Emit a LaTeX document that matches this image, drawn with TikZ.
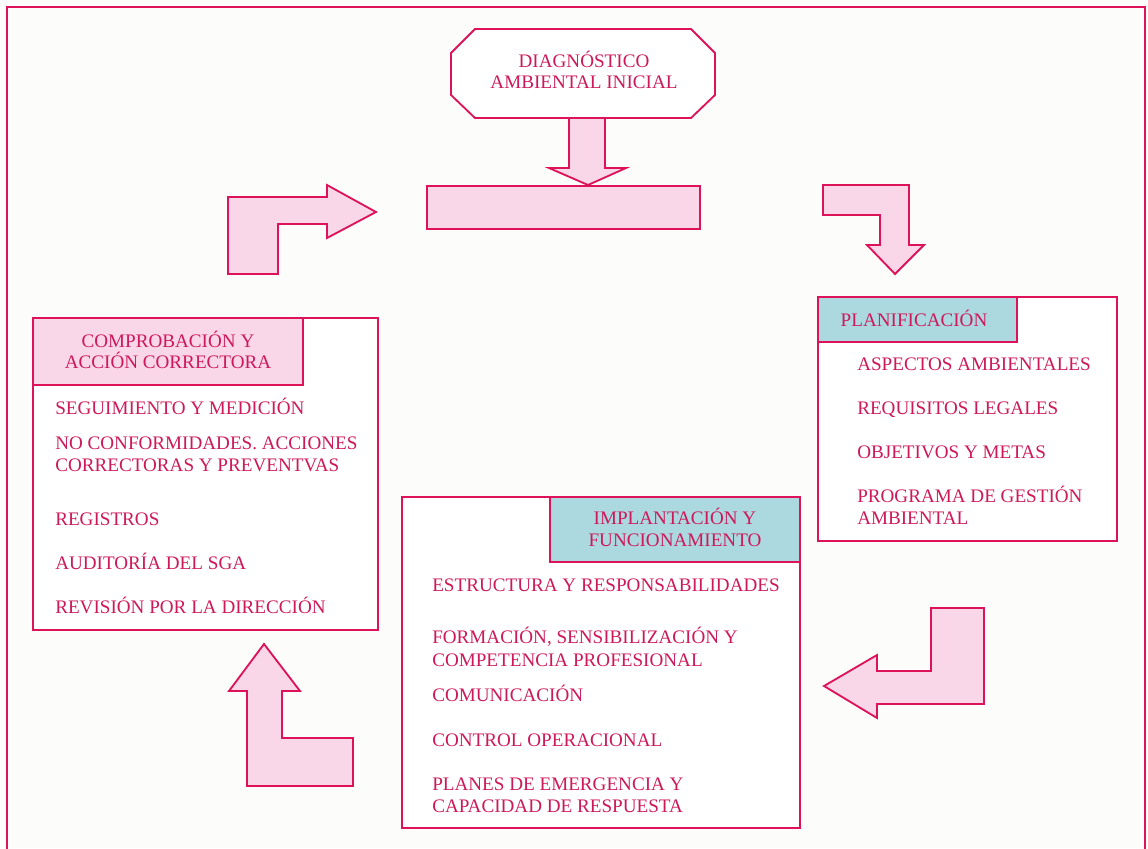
\documentclass[tikz,border=0pt]{standalone}
\usepackage{fontspec}
\setmainfont{Liberation Serif}
\usetikzlibrary{calc}

\definecolor{sgaline}{RGB}{222,18,88}
\definecolor{sgatext}{RGB}{205,25,90}
\definecolor{sgapink}{RGB}{249,214,232}
\definecolor{sgacyan}{RGB}{172,216,224}
\definecolor{sgapaper}{RGB}{252,252,251}

\tikzset{
  boxline/.style={draw=sgaline, line width=1.3pt},
  blockarrow/.style={draw=sgaline, fill=sgapink, line width=1.3pt, line join=miter},
  itemtext/.style={text=sgatext, font=\fontsize{13.6}{16}\selectfont, inner sep=0pt},
}

\begin{document}
\begin{tikzpicture}[x=0.025cm, y=-0.025cm]
  \useasboundingbox (0,0) rectangle (1148,848);
  \fill[sgapaper] (0,0) rectangle (1148,848);
  \clip (0,0) rectangle (1148,848);

  % Outer frame
  \draw[boxline] (7,870) -- (7,7) -- (1145,7) -- (1145,870);

  % Initial diagnosis
  \draw[boxline, fill=white] (475,29) -- (691,29) -- (715,53) -- (715,95)
    -- (691,118) -- (475,118) -- (451,95) -- (451,53) -- cycle;
  \node[itemtext, anchor=base] (diag1) at (584,67) {DIAGNÓSTICO};
  \node[itemtext, anchor=base] (diag2) at (584,88) {AMBIENTAL INICIAL};

  % Down arrow and policy bar
  \draw[blockarrow] (569,118) -- (569,168) -- (549,168) -- (588,185)
    -- (626,168) -- (605,168) -- (605,118) -- cycle;
  \draw[boxline, fill=sgapink] (427,186) rectangle (700,229);

  % Corner arrows
  \draw[blockarrow] (228,274) -- (228,197) -- (327,197) -- (327,185) -- (376,212)
    -- (327,238) -- (327,224) -- (278,224) -- (278,274) -- cycle;
  \draw[blockarrow] (823,185) -- (909,185) -- (909,245) -- (924,245) -- (895,274)
    -- (867,245) -- (880,245) -- (880,215) -- (823,215) -- cycle;
  \draw[blockarrow] (931,608) -- (984,608) -- (984,704) -- (877,704) -- (877,718)
    -- (824,686) -- (877,655) -- (877,671) -- (931,671) -- cycle;
  \draw[blockarrow] (247,786) -- (247,691) -- (229,691) -- (264,644) -- (300,691)
    -- (282,691) -- (282,738) -- (353,738) -- (353,786) -- cycle;

  % Planning
  \draw[boxline, fill=white] (818,297) rectangle (1117,541);
  \draw[boxline, fill=sgacyan] (818,297) rectangle (1017,342);
  \node[itemtext, anchor=base] (plan) at (914,326) {PLANIFICACIÓN};
  \foreach \y/\t [count=\i] in {370/ASPECTOS AMBIENTALES, 414/REQUISITOS LEGALES,
      458/OBJETIVOS Y METAS, 502/PROGRAMA DE GESTIÓN, 524/AMBIENTAL}
    \node[itemtext, anchor=base west] (plan\i) at (857,\y) {\t};

  % Implementation
  \draw[boxline, fill=white] (402,497) rectangle (800,828);
  \draw[boxline, fill=sgacyan] (550,497) rectangle (800,562);
  \node[itemtext, anchor=base] (implh1) at (675,524) {IMPLANTACIÓN Y};
  \node[itemtext, anchor=base] (implh2) at (675,546) {FUNCIONAMIENTO};
  \foreach \y/\t [count=\i] in {591/ESTRUCTURA Y RESPONSABILIDADES,
      643/{FORMACIÓN, SENSIBILIZACIÓN Y}, 666/COMPETENCIA PROFESIONAL,
      701/COMUNICACIÓN, 746/CONTROL OPERACIONAL,
      790/PLANES DE EMERGENCIA Y, 812/CAPACIDAD DE RESPUESTA}
    \node[itemtext, anchor=base west] (impl\i) at (432,\y) {\t};

  % Checking
  \draw[boxline, fill=white] (33,318) rectangle (378,630);
  \draw[boxline, fill=sgapink] (33,318) rectangle (303,385);
  \node[itemtext, anchor=base] (comph1) at (168,347) {COMPROBACIÓN Y};
  \node[itemtext, anchor=base] (comph2) at (168,368) {ACCIÓN CORRECTORA};
  \foreach \y/\t [count=\i] in {414/SEGUIMIENTO Y MEDICIÓN,
      449/NO CONFORMIDADES. ACCIONES, 471/CORRECTORAS Y PREVENTVAS,
      525/REGISTROS, 569/AUDITORÍA DEL SGA, 613/REVISIÓN POR LA DIRECCIÓN}
    \node[itemtext, anchor=base west] (comp\i) at (55,\y) {\t};
\end{tikzpicture}
\end{document}
